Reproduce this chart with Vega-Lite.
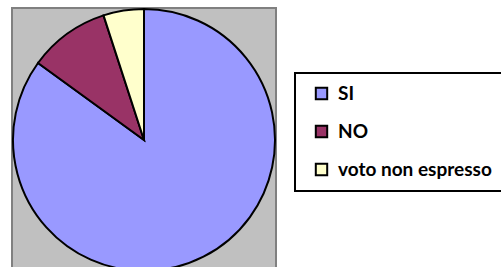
{
  "$schema": "https://vega.github.io/schema/vega-lite/v6.json",
  "width": 264,
  "height": 264,
  "autosize": "none",
  "padding": {"left": 12, "top": 8, "right": 225, "bottom": 0},
  "background": "white",
  "view": {"fill": "#c0c0c0", "stroke": "#808080", "strokeWidth": 2},
  "data": {"values": [
    {"voto": "SI", "percent": 85, "k": 1},
    {"voto": "NO", "percent": 10, "k": 2},
    {"voto": "voto non espresso", "percent": 5, "k": 3}
  ]},
  "mark": {"type": "arc", "outerRadius": 131, "stroke": "black", "strokeWidth": 2},
  "encoding": {
    "theta": {"field": "percent", "type": "quantitative", "stack": true},
    "order": {"field": "k", "type": "quantitative"},
    "color": {
      "field": "voto",
      "type": "nominal",
      "scale": {"domain": ["SI", "NO", "voto non espresso"], "range": ["#9999ff", "#993366", "#ffffcc"]},
      "legend": {
        "title": null,
        "orient": "none",
        "legendX": 283,
        "legendY": 65,
        "padding": 11,
        "strokeColor": "black",
        "fillColor": "white",
        "symbolType": "square",
        "symbolSize": 130,
        "symbolStrokeColor": "black",
        "symbolStrokeWidth": 2,
        "symbolOpacity": 1,
        "symbolOffset": 6,
        "labelFont": "Lato",
        "labelFontSize": 19,
        "labelFontWeight": "bold",
        "labelColor": "black",
        "labelOffset": 7,
        "rowPadding": 17,
        "labelLimit": 300,
        "encode": {"legend": {"update": {"strokeWidth": {"value": 2}}}}
      }
    }
  }
}
